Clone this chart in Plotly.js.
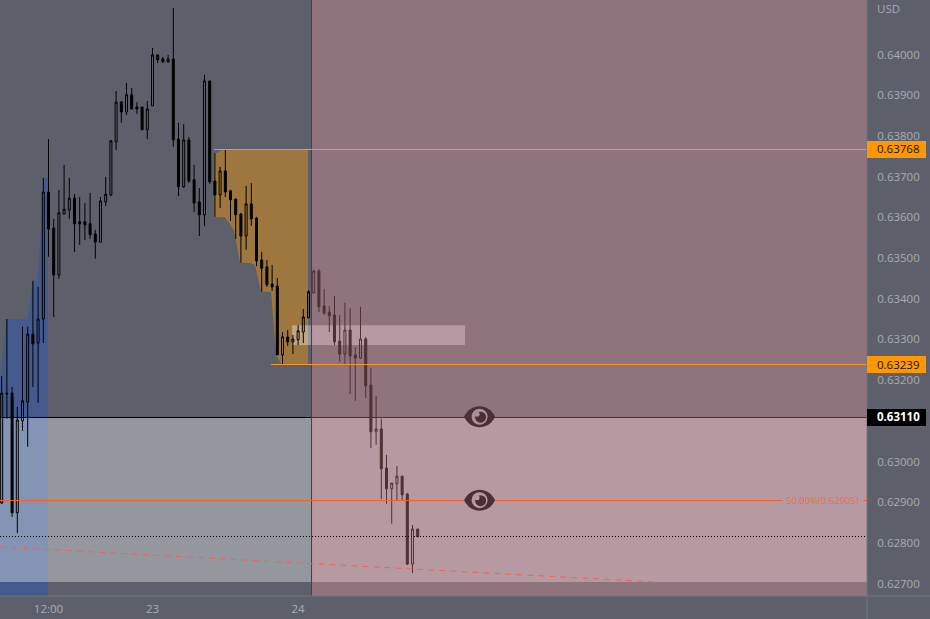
<!DOCTYPE html>
<html><head><meta charset="utf-8">
<script src="https://cdn.plot.ly/plotly-3.0.1.min.js"></script>
<style>html,body{margin:0;padding:0;background:#5d606b;overflow:hidden}#c{width:930px;height:619px}</style>
</head><body><div id="c"></div>
<script>
const opens=[.62898,.63168,.63168,.62874,.63100,.63146,.63313,.63291,.63350,.63662,.63574,.63458,.63608,.63618,.63647,.63589,.63589,.63584,.63559,.63539,.63638,.63655,.63785,.63883,.63859,.63901,.63871,.63871,.63815,.63874,.63999,.63989,.63982,.63989,.63792,.63675,.63790,.63692,.63638,.63606,.63935,.63689,.63655,.63714,.63665,.63645,.63608,.63554,.63633,.63598,.63495,.63478,.63436,.63431,.63262,.63306,.63294,.63299,.63318,.63353,.63414,.63468,.63382,.63367,.63360,.63296,.63264,.63323,.63262,.63254,.63301,.63188,.63073,.63080,.62984,.62933,.62945,.62964,.62920,.62748,.62834];
const highs=[.63210,.63350,.63183,.63134,.63331,.63331,.63444,.63429,.63697,.63792,.63596,.63667,.63729,.63697,.63657,.63650,.63635,.63660,.63569,.63650,.63699,.63790,.63910,.63886,.63930,.63918,.63883,.63871,.63886,.64016,.63999,.63994,.63999,.64114,.63832,.63829,.63797,.63729,.63672,.63950,.63935,.63758,.63724,.63768,.63667,.63645,.63611,.63677,.63684,.63601,.63515,.63495,.63483,.63451,.63318,.63323,.63311,.63335,.63375,.63421,.63471,.63473,.63424,.63382,.63407,.63360,.63390,.63377,.63281,.63380,.63306,.63230,.63161,.63105,.63016,.62947,.62989,.62964,.62923,.62844,.62834];
const lows=[.62896,.63105,.62864,.62824,.63075,.63036,.63183,.63144,.63291,.63503,.63355,.63449,.63608,.63596,.63515,.63532,.63544,.63547,.63498,.63539,.63628,.63652,.63765,.63832,.63851,.63866,.63854,.63815,.63792,.63874,.63979,.63979,.63979,.63773,.63652,.63672,.63684,.63613,.63554,.63579,.63682,.63601,.63623,.63650,.63591,.63547,.63488,.63520,.63579,.63480,.63417,.63429,.63419,.63262,.63237,.63284,.63264,.63286,.63291,.63353,.63414,.63367,.63360,.63318,.63286,.63245,.63240,.63166,.63149,.63252,.63156,.63033,.63041,.62908,.62896,.62847,.62905,.62903,.62746,.62726,.62815];
const closes=[.63168,.63166,.62874,.63102,.63149,.63313,.63289,.63350,.63662,.63571,.63458,.63611,.63620,.63647,.63584,.63584,.63581,.63557,.63539,.63640,.63657,.63788,.63883,.63859,.63901,.63866,.63866,.63815,.63866,.63999,.63987,.63982,.63989,.63790,.63675,.63790,.63689,.63635,.63606,.63935,.63687,.63655,.63714,.63662,.63643,.63606,.63554,.63633,.63596,.63493,.63475,.63434,.63429,.63262,.63306,.63294,.63301,.63321,.63355,.63417,.63468,.63380,.63365,.63358,.63294,.63264,.63323,.63259,.63254,.63301,.63186,.63073,.63080,.62982,.62933,.62947,.62964,.62918,.62748,.62834,.62815];
const candleIndex=opens.map((_,i)=>i);

const xTickVals=[9,29,57];
const xTickText=['12:00','23','24'];
const yTicks=[.627,.628,.629,.630,.632,.633,.634,.635,.636,.637,.638,.639,.640];

const blueX=[-0.33,-0.33,0.96,5,5.96,6.92,8.08,8.9,8.9];
const blueY=[.62670,.63205,.63350,.63350,.63444,.63444,.63697,.63697,.62670];
const orangeX=[42.75,58.9,58.9,53.9,52.75,51.8,49.87,48.7,47.75,45.83,44.67,42.94,40.83,40.83,41.4];
const orangeY=[.63768,.63768,.63237,.63237,.63262,.63417,.63417,.63483,.63488,.63488,.63569,.63601,.63601,.63758,.63758];

const xLeft=-0.327, xRight=166.4, yBottom=.626695, yTop=.641339;
const priceHigh=.63768, priceLow=.63239, priceNow=.63110, priceMid=.62905;
const lineHigh=.637666, lineLow=.632383, lineNow=.631081, lineMid=.629041, lineDot=.628156;
const bandBottom=.62704;
const boxX=[55.83,89.1], boxY=[.63286,.63335];
const splitX=59.67, splitLineX=59.58;
const slopeX=[-0.33,125.6], slopeY=[.62790,.62704];
const eyeX=91.9;
const highLineStart=40.83, lowLineStart=51.8, midLineEnd=150.1, midLineResume=165.7;
const midLabel='50.00%(0.62905)';
const midLabelX=157.9;

function poly(xs,ys){return xs.map((x,i)=>(i?'L':'M')+x+','+ys[i]).join(' ')+' Z';}
function line(x0,x1,y0,y1,color,width,dash,layer){
  return {type:'line',xref:'x',yref:'y',x0,x1,y0,y1,layer:layer||'above',line:{color,width:width||1,dash:dash||'solid'}};
}
const eyeDark='#4a2f35';
function eye(y,ring,notch){
  const base={xref:'x',yref:'y',xsizemode:'pixel',ysizemode:'pixel',xanchor:eyeX,yanchor:y,layer:'above',line:{width:0}};
  return [
    Object.assign({},base,{type:'path',fillcolor:eyeDark,path:'M-15.5,0 C-9,14 9,14 15.5,0 C9,-14 -9,-14 -15.5,0 Z'}),
    Object.assign({},base,{type:'circle',fillcolor:ring,x0:-8,x1:8,y0:-8,y1:8}),
    Object.assign({},base,{type:'circle',fillcolor:eyeDark,x0:-4.5,x1:6.5,y0:-6,y1:5}),
    Object.assign({},base,{type:'circle',fillcolor:notch,x0:-5,x1:0,y0:0,y1:5})
  ];
}
function badgeRect(v,fill){
  return {type:'rect',xref:'paper',yref:'y',x0:1,x1:926/867,y0:v-.00021,y1:v+.00021,fillcolor:fill,line:{width:0},layer:'above'};
}
const shapes=[
  {type:'path',layer:'below',xref:'x',yref:'y',path:poly(blueX,blueY),fillcolor:'#44598e',line:{width:0}},
  {type:'path',layer:'below',xref:'x',yref:'y',path:poly(orangeX,orangeY),fillcolor:'#9e773e',line:{width:0}},
  {type:'rect',layer:'below',xref:'x',yref:'y',x0:xLeft,x1:xRight,y0:bandBottom,y1:lineNow,fillcolor:'rgba(255,255,255,0.35)',line:{width:0}},
  {type:'rect',layer:'below',xref:'x',yref:'y',x0:boxX[0],x1:boxX[1],y0:boxY[0],y1:boxY[1],fillcolor:'rgba(255,255,255,0.35)',line:{width:0}},
  line(xLeft,xRight,lineNow,lineNow,'#000000'),
  {type:'rect',layer:'above',xref:'x',yref:'y',x0:splitX,x1:xRight,y0:yBottom,y1:yTop,fillcolor:'rgba(255,158,168,0.31)',line:{width:0}},
  line(splitLineX,splitLineX,yBottom,yTop,'#6c2d3e'),
  line(highLineStart,xRight,lineHigh,lineHigh,'#f4982c'),
  line(lowLineStart,xRight,lineLow,lineLow,'#f6951f'),
  line(xLeft,midLineEnd,lineMid,lineMid,'#f0622a'),
  line(midLineResume,xRight,lineMid,lineMid,'#f0622a'),
  line(xLeft,xRight,lineDot,lineDot,'#000000',1,'1px,2px'),
  line(slopeX[0],slopeX[1],slopeY[0],slopeY[1],'#f0625e',1,'6px,5px'),
  ...eye(priceNow,'#ab9099','#ab9099'),
  ...eye(priceMid,'#b59aa2','#b59aa2'),
  {type:'line',xref:'paper',yref:'paper',x0:0,x1:930/867,y0:0,y1:0,layer:'above',line:{color:'#71747d',width:1}},
  {type:'line',xref:'paper',yref:'paper',x0:1,x1:1,y0:-23/596,y1:1,layer:'above',line:{color:'#71747d',width:1}},
  badgeRect(lineHigh,'#ff9800'),badgeRect(lineLow,'#ff9800'),badgeRect(lineNow,'#000000')
];
const axisFont={family:'"Open Sans", sans-serif',size:11.5,color:'#a8abb3'};
function badge(v,color,weight){
  return {xref:'paper',yref:'y',x:1,y:v,xanchor:'left',yanchor:'middle',xshift:9,showarrow:false,borderpad:0,
    text:weight?'<b>'+v.toFixed(5)+'</b>':v.toFixed(5),font:{family:axisFont.family,size:11.5,color}};
}
const annotations=[
  badge(priceHigh,'#1a1206'),badge(priceLow,'#1a1206'),badge(priceNow,'#ffffff',true),
  {xref:'paper',yref:'paper',x:1,y:1,xanchor:'left',yanchor:'top',xshift:9,yshift:0,showarrow:false,borderpad:0,text:'USD',font:axisFont},
  {xref:'x',yref:'y',x:midLabelX,y:priceMid,xanchor:'center',yanchor:'middle',showarrow:false,borderpad:0,text:midLabel,font:{family:axisFont.family,size:9.5,color:'#f0703a'}}
];
const trace={type:'candlestick',x:candleIndex,open:opens,high:highs,low:lows,close:closes,whiskerwidth:0,
  increasing:{line:{color:'#000000',width:1},fillcolor:'rgba(0,0,0,0)'},
  decreasing:{line:{color:'#000000',width:1},fillcolor:'#000000'},hoverinfo:'skip'};
const layout={width:930,height:619,margin:{l:0,r:63,t:0,b:23,pad:0},paper_bgcolor:'#5d606b',plot_bgcolor:'#5d606b',
  showlegend:false,boxgap:0.45,shapes,annotations,
  xaxis:{type:'linear',range:[xLeft,xRight],rangeslider:{visible:false},showgrid:false,zeroline:false,showline:false,
    tickmode:'array',tickvals:xTickVals,ticktext:xTickText,ticks:'outside',ticklen:2,tickcolor:'rgba(0,0,0,0)',tickfont:axisFont},
  yaxis:{side:'right',range:[yBottom,yTop],showgrid:false,zeroline:false,showline:false,
    tickmode:'array',tickvals:yTicks,ticktext:yTicks.map(v=>v.toFixed(5)),ticks:'outside',ticklen:7,tickcolor:'rgba(0,0,0,0)',tickfont:axisFont}
};
Plotly.newPlot('c',[trace],layout,{staticPlot:true,displayModeBar:false});
</script></body></html>
